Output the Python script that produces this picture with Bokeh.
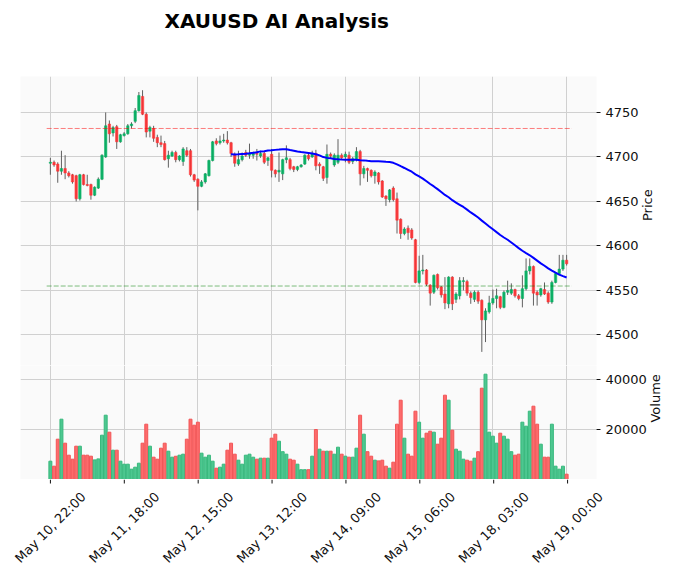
import math
import pandas as pd
from bokeh.plotting import figure
from bokeh.layouts import column
from bokeh.models import Range1d, FixedTicker, ColumnDataSource
from bokeh.core.properties import value
from bokeh.embed import file_html
from bokeh.resources import INLINE

# ---------------- data (hourly XAUUSD candles) ----------------
opens = [4693, 4694, 4692, 4684, 4687, 4682, 4680, 4679, 4653, 4680,
         4669, 4669, 4657, 4665, 4675, 4700, 4737, 4727, 4734, 4717,
         4724, 4726, 4735, 4740, 4752, 4768, 4748, 4729, 4732, 4722,
         4716, 4715, 4698, 4701, 4705, 4697, 4695, 4707, 4707, 4680,
         4675, 4667, 4672, 4679, 4696, 4718, 4716, 4718, 4719, 4716,
         4703, 4692, 4697, 4705, 4702, 4702, 4704, 4701, 4704, 4696,
         4703, 4685, 4683, 4681, 4697, 4697, 4689, 4686, 4689, 4692,
         4702, 4700, 4704, 4692, 4689, 4677, 4703, 4691, 4694, 4702,
         4700, 4702, 4695, 4697, 4706, 4681, 4687, 4685, 4679, 4682,
         4673, 4656, 4652, 4665, 4653, 4630, 4614, 4620, 4618, 4607,
         4559, 4572, 4573, 4556, 4548, 4568, 4554, 4546, 4535, 4565,
         4540, 4544, 4560, 4560, 4547, 4540, 4548, 4539, 4517, 4526,
         4536, 4541, 4543, 4531, 4548, 4547, 4551, 4544, 4541, 4552,
         4572, 4577, 4548, 4545, 4551, 4547, 4537, 4559, 4569, 4574,
         4584]
highs = [4699, 4696, 4694, 4707, 4702, 4684, 4681, 4680, 4681, 4681,
         4680, 4670, 4667, 4677, 4703, 4750, 4741, 4735, 4736, 4726,
         4728, 4737, 4739, 4755, 4773, 4775, 4750, 4735, 4735, 4725,
         4724, 4718, 4707, 4707, 4707, 4702, 4711, 4711, 4709, 4681,
         4676, 4674, 4682, 4697, 4718, 4721, 4724, 4726, 4729, 4717,
         4705, 4707, 4705, 4708, 4715, 4706, 4709, 4707, 4706, 4700,
         4709, 4686, 4705, 4698, 4713, 4699, 4690, 4690, 4692, 4703,
         4705, 4707, 4708, 4694, 4690, 4714, 4705, 4704, 4720, 4704,
         4706, 4706, 4700, 4711, 4708, 4690, 4688, 4686, 4685, 4683,
         4674, 4657, 4664, 4667, 4660, 4631, 4621, 4623, 4620, 4608,
         4589, 4590, 4574, 4557, 4568, 4569, 4555, 4565, 4566, 4566,
         4548, 4565, 4565, 4562, 4549, 4550, 4550, 4540, 4530, 4544,
         4551, 4552, 4544, 4550, 4561, 4558, 4552, 4546, 4567, 4586,
         4586, 4578, 4550, 4553, 4559, 4549, 4561, 4570, 4590, 4590,
         4590]
lows = [4680, 4689, 4671, 4680, 4675, 4677, 4670, 4650, 4651, 4668,
        4667, 4652, 4656, 4664, 4674, 4699, 4716, 4723, 4709, 4716,
        4723, 4725, 4732, 4738, 4751, 4747, 4722, 4722, 4717, 4711,
        4711, 4696, 4688, 4700, 4694, 4695, 4690, 4700, 4678, 4672,
        4640, 4666, 4670, 4678, 4695, 4713, 4714, 4716, 4714, 4700,
        4689, 4690, 4695, 4700, 4698, 4698, 4696, 4699, 4692, 4690,
        4677, 4677, 4672, 4674, 4693, 4685, 4683, 4684, 4688, 4691,
        4696, 4699, 4685, 4681, 4673, 4670, 4698, 4689, 4692, 4697,
        4694, 4692, 4692, 4695, 4668, 4676, 4672, 4677, 4670, 4669,
        4654, 4645, 4649, 4650, 4614, 4608, 4612, 4607, 4607, 4558,
        4557, 4568, 4555, 4533, 4546, 4551, 4542, 4529, 4530, 4528,
        4536, 4540, 4550, 4544, 4535, 4537, 4535, 4481, 4492, 4524,
        4534, 4530, 4529, 4530, 4545, 4545, 4542, 4539, 4531, 4550,
        4568, 4533, 4533, 4543, 4545, 4535, 4535, 4558, 4567, 4572,
        4578]
closes = [4694, 4691, 4684, 4687, 4682, 4679, 4672, 4653, 4680, 4669,
          4668, 4657, 4666, 4675, 4702, 4735, 4726, 4733, 4717, 4725,
          4726, 4735, 4737, 4752, 4769, 4748, 4728, 4733, 4721, 4716,
          4714, 4697, 4702, 4705, 4697, 4701, 4709, 4702, 4680, 4674,
          4667, 4672, 4681, 4696, 4717, 4715, 4718, 4719, 4716, 4704,
          4693, 4697, 4701, 4702, 4704, 4705, 4703, 4704, 4694, 4699,
          4685, 4681, 4685, 4697, 4699, 4687, 4686, 4689, 4691, 4702,
          4698, 4704, 4690, 4690, 4676, 4703, 4701, 4702, 4702, 4699,
          4703, 4694, 4698, 4706, 4681, 4687, 4685, 4679, 4683, 4672,
          4655, 4653, 4663, 4652, 4629, 4614, 4619, 4615, 4609, 4559,
          4572, 4573, 4557, 4547, 4567, 4553, 4545, 4536, 4565, 4535,
          4546, 4561, 4561, 4547, 4542, 4548, 4538, 4517, 4527, 4536,
          4541, 4544, 4531, 4548, 4550, 4551, 4544, 4541, 4552, 4572,
          4577, 4547, 4545, 4552, 4546, 4537, 4559, 4569, 4574, 4584,
          4580]
volumes = [7320, 5320, 16120, 24120, 14520, 9720, 8120, 13320, 13320, 9720,
           9720, 9320, 7850, 8250, 17720, 25720, 18920, 11720, 11720, 7320,
           6120, 6120, 4120, 4920, 6520, 14520, 22120, 13320, 8920, 8120,
           12520, 14520, 11320, 8920, 9300, 9720, 10120, 16120, 24120, 21720,
           22920, 10520, 8920, 9720, 7320, 4520, 4920, 6120, 11720, 14520,
           10120, 7720, 6120, 9720, 10120, 8920, 8120, 8520, 8520, 8520,
           16520, 18120, 15320, 11120, 10120, 8120, 7720, 6120, 3920, 3920,
           3920, 9320, 20000, 12120, 11320, 11320, 11320, 10120, 12920, 10120,
           9320, 8920, 8920, 12520, 25720, 18120, 11120, 9320, 7720, 7450,
           7720, 5320, 4520, 6920, 22120, 31720, 16520, 10120, 9320, 27320,
           22920, 16520, 18520, 19320, 18920, 14120, 16520, 33720, 31720, 19720,
           12120, 11320, 8120, 7720, 7320, 8520, 11120, 36520, 42120, 18920,
           17320, 14520, 18520, 17320, 16120, 11120, 9720, 10120, 22920, 21320,
           27320, 29320, 22120, 14120, 8920, 8920, 22120, 5320, 4120, 5320,
           2120]

tick_idx = [0, 20, 40, 60, 80, 100, 120, 140]
tick_labels = ["May 10, 22:00", "May 11, 18:00", "May 12, 15:00", "May 13, 12:00",
               "May 14, 09:00", "May 15, 06:00", "May 18, 03:00", "May 19, 00:00"]
price_ticks = [4500, 4550, 4600, 4650, 4700, 4750]
volume_ticks = [20000, 40000]
resistance_level = 4732
support_level = 4555
mav_period = 50
title_text = "XAUUSD AI Analysis"

# ---------------- styling (mplfinance "yahoo"-like) ----------------
UP, DOWN = "#00b060", "#fe3032"
VUP, VDOWN = "#4dc790", "#fd6b6c"
VUP_EDGE, VDOWN_EDGE = "#36b87c", "#f25556"
WICK = "#606060"
FACE = "#fafafa"
GRID = "#d0d0d0"
FONT = "DejaVu Sans"
TXT = "#101010"

# layout constants (pixels)
W = 673
LEFT, RIGHT = 20, 76
FRAME_W = W - LEFT - RIGHT
TITLE_H = 76
PRICE_H = 289
VOL_H = 114
XLAB_H = 96
TICK_LEN = 4
LABEL_CENTER = 48

n = len(closes)
idx = list(range(n))
df = pd.DataFrame({"idx": idx, "open": opens, "high": highs, "low": lows,
                   "close": closes, "volume": volumes})
df["top"] = df[["open", "close"]].max(axis=1)
df["bottom"] = df[["open", "close"]].min(axis=1)
df["color"] = [UP if c >= o else DOWN for o, c in zip(opens, closes)]
prev_close = [opens[0]] + closes[:-1]
df["vcolor"] = [VUP if c >= pc else VDOWN for c, pc in zip(closes, prev_close)]
df["vedge"] = [VUP_EDGE if c >= pc else VDOWN_EDGE for c, pc in zip(closes, prev_close)]
df["mav"] = df["close"].rolling(mav_period).mean()
src = ColumnDataSource(df)
mav_df = df.dropna(subset=["mav"])

pad = 8.1
x0, x1 = idx[0] - pad, idx[-1] + pad
x_range = Range1d(x0, x1)

# ---- title strip ----
p0 = figure(width=W, height=TITLE_H, title=title_text,
            output_backend="svg", toolbar_location=None,
            x_axis_location=None, y_axis_location=None,
            min_border_left=LEFT, min_border_right=RIGHT,
            min_border_top=0, min_border_bottom=0,
            background_fill_color="white", border_fill_color="white",
            outline_line_color=None)
p0.grid.visible = False
p0.title.text_font = FONT
p0.title.text_font_size = "20px"
p0.title.text_font_style = "bold"
p0.title.text_color = "black"
p0.title.align = "left"
p0.title.offset = 144
p0.title.vertical_align = "top"
p0.title.standoff = 16

# ---- price panel ----
p1 = figure(width=W, height=PRICE_H, x_range=x_range,
            y_range=Range1d(4465.7, 4790.4),
            output_backend="svg", toolbar_location=None,
            y_axis_location="right",
            min_border_left=LEFT, min_border_right=RIGHT, min_border_top=0,
            min_border_bottom=0, background_fill_color=FACE,
            border_fill_color="white", outline_line_color=None)
p1.segment(x0="idx", y0="low", x1="idx", y1="high", source=src,
           line_color=WICK, line_width=1)
p1.vbar(x="idx", width=0.65, top="top", bottom="bottom", source=src,
        fill_color="color", line_color="color", fill_alpha=0.9, line_alpha=0.9,
        line_width=0.6)
p1.line(mav_df["idx"], mav_df["mav"], line_color="blue", line_width=2)
p1.segment(x0=[idx[0] - 1], x1=[idx[-1] + 1.4], y0=[resistance_level],
           y1=[resistance_level], line_color="red", line_alpha=0.5,
           line_dash="5 2", line_width=1)
p1.segment(x0=[idx[0] - 1], x1=[idx[-1] + 1.4], y0=[support_level],
           y1=[support_level], line_color="green", line_alpha=0.5,
           line_dash="5 2", line_width=1)
p1.xaxis.visible = False
p1.xgrid.ticker = FixedTicker(ticks=tick_idx)
p1.yaxis.ticker = FixedTicker(ticks=price_ticks)
p1.yaxis.axis_label = "Price"

# ---- volume panel ----
p2 = figure(width=W, height=VOL_H, x_range=x_range,
            y_range=Range1d(0, 45600),
            output_backend="svg", toolbar_location=None,
            y_axis_location="right",
            min_border_left=LEFT, min_border_right=RIGHT, min_border_top=0,
            min_border_bottom=0, background_fill_color=FACE,
            border_fill_color="white", outline_line_color=None)
p2.vbar(x="idx", width=0.8, top="volume", bottom=0, source=src,
        fill_color="vcolor", line_color="vedge", line_width=1)
p2.yaxis.ticker = FixedTicker(ticks=volume_ticks)
p2.yaxis.axis_label = "Volume"
p2.xaxis.visible = False
p2.xgrid.ticker = FixedTicker(ticks=tick_idx)

for p in (p1, p2):
    p.grid.grid_line_color = GRID
    p.grid.grid_line_width = 1
    ax = p.yaxis[0]
    ax.axis_line_color = None
    ax.major_tick_out = 4
    ax.major_tick_in = 0
    ax.minor_tick_line_color = None
    ax.major_tick_line_color = TXT
    ax.major_label_text_font = FONT
    ax.major_label_text_font_size = "13px"
    ax.major_label_text_color = TXT
    ax.major_label_standoff = 5
    ax.axis_label_text_font = FONT
    ax.axis_label_text_font_size = "13px"
    ax.axis_label_text_font_style = "normal"
    ax.axis_label_text_color = TXT
    ax.axis_label_standoff = 6
    ax.axis_label_orientation = math.pi / 2

# ---- date tick strip (matplotlib-style centred rotated labels) ----
# separate root so that its frame spans the full width (no clipping at edges)
ppu = FRAME_W / (x1 - x0)
p3 = figure(width=W, height=XLAB_H,
            x_range=Range1d(x0 - LEFT / ppu, x1 + RIGHT / ppu),
            y_range=Range1d(-XLAB_H, 0),
            output_backend="svg", toolbar_location=None,
            x_axis_location=None, y_axis_location=None,
            min_border_left=0, min_border_right=0,
            min_border_top=0, min_border_bottom=0,
            background_fill_color="white", border_fill_color="white",
            outline_line_color=None)
p3.grid.visible = False
p3.segment(x0=tick_idx, x1=tick_idx, y0=0, y1=-TICK_LEN,
           line_color=TXT, line_width=1)
p3.text(x=tick_idx, y=-LABEL_CENTER, text=tick_labels, angle=math.pi / 4,
        text_align="center", text_baseline="middle",
        text_font=value(FONT), text_font_size="13px", text_color=TXT)

layout = column(p0, p1, p2, spacing=0)
open("out.html", "w").write(file_html([layout, p3], INLINE))
